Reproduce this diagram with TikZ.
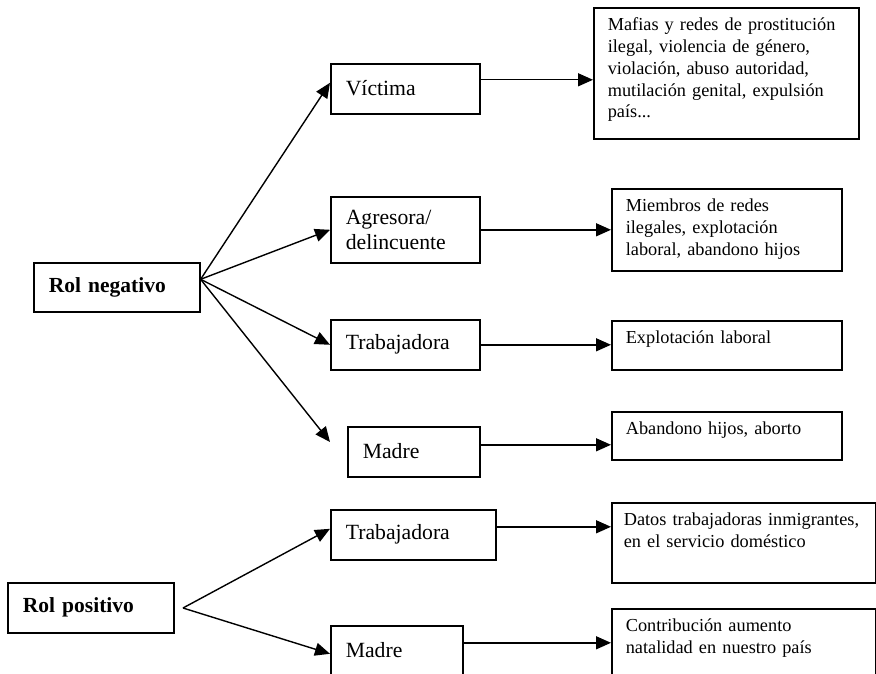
\documentclass[tikz,border=0pt]{standalone}
\usepackage{fontspec}
\setmainfont{Liberation Serif}
\usetikzlibrary{arrows.meta,positioning}
\tikzstyle{rol}=[draw,line width=1.6pt,anchor=north west,align=left,inner xsep=15pt,inner ysep=0pt,font=\bfseries\fontsize{21.5}{25}\selectfont]
\tikzstyle{papel}=[draw,line width=1.6pt,anchor=north west,align=left,inner xsep=15pt,inner ysep=0pt,text height=14pt,font=\fontsize{21.7}{25}\selectfont]
\tikzstyle{detalle}=[draw,line width=1.6pt,anchor=north west,align=left,inner xsep=14pt,inner ysep=10pt,text height=13pt,font=\fontsize{18.3}{21.8}\selectfont]
\tikzstyle{flecha}=[-{Triangle[length=15pt,width=13pt]},line width=1.4pt]

\begin{document}
\begin{tikzpicture}[x=1pt,y=-1pt]
  \path[use as bounding box,clip] (0,0) rectangle (876,674);

  % rol negativo
  \node[rol,text width=136pt,minimum height=49pt] (neg) at (33,262) {Rol negativo};
  \node[papel,text width=119pt,minimum height=50pt] (vic) at (330,63) {Víctima};
  \node[papel,text width=119pt,minimum height=66pt] (agr) at (330,196) {Agresora/\\delincuente};
  \node[papel,text width=119pt,minimum height=50pt] (trN) at (330,319) {Trabajadora};
  \node[papel,text width=102pt,minimum height=50pt] (madN) at (347,426) {Madre};
  \coordinate (madNin) at (330,442);

  \node[detalle,text width=237pt,text depth=98pt] (maf) at (593,7)
    {Mafias y redes de prostitución\\ilegal, violencia de género,\\violación, abuso autoridad,\\mutilación genital, expulsión\\país...};
  \node[detalle,text width=202pt,text depth=49pt] (mie) at (611,188)
    {Miembros de redes\\ilegales, explotación\\laboral, abandono hijos};
  \node[detalle,text width=202pt,text depth=16pt] (exp) at (611,320) {Explotación laboral};
  \node[detalle,text width=202pt,text depth=15pt] (aba) at (611,411) {Abandono hijos, aborto};

  % rol positivo
  \node[rol,text width=136pt,minimum height=50pt] (pos) at (7,582) {Rol positivo};
  \coordinate (poso) at (183,608);
  \node[papel,text width=135pt,minimum height=50pt] (trP) at (330,509) {Trabajadora};
  \node[papel,text width=102pt,minimum height=50pt] (madP) at (330,625) {Madre};

  \node[detalle,inner xsep=12pt,text width=240pt,text depth=47pt] (dat) at (611,502)
    {Datos trabajadoras inmigrantes,\\en el servicio doméstico};
  \node[detalle,text width=236pt,text depth=47pt] (con) at (611,608)
    {Contribución aumento\\natalidad en nuestro país};

  \path[flecha] ([yshift=8pt]neg.east) edge ([yshift=6pt]vic.west)
          edge (agr.west)
          edge (trN.west)
          edge (madNin);
  \path[flecha] ([yshift=9pt]vic.east) edge ([yshift=9pt]vic.east -| maf.west)
    (agr.east) edge (agr.east -| mie.west)
    (trN.east) edge (trN.east -| exp.west)
    ([yshift=7pt]madN.east) edge ([yshift=7pt]madN.east -| aba.west);

  \path[flecha] (poso) edge ([yshift=6pt]trP.west)
          edge ([yshift=-3pt]madP.west);
  \path[flecha] ([yshift=8pt]trP.east) edge ([yshift=8pt]trP.east -| dat.west)
    ([yshift=8pt]madP.east) edge ([yshift=8pt]madP.east -| con.west);
\end{tikzpicture}
\end{document}
